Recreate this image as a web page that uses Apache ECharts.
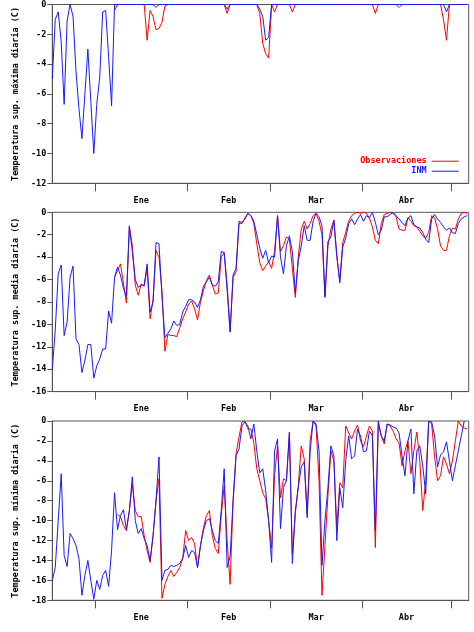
<!DOCTYPE html>
<html>
<head>
<meta charset="utf-8">
<script src="https://cdn.jsdelivr.net/npm/echarts@6/dist/echarts.min.js"></script>
<style>
html,body{margin:0;padding:0;background:#fff;}
#chart{width:474px;height:632px;}
</style>
</head>
<body>
<div id="chart"></div>
<script>
// Days are counted from 1 January (day 0). First INM value is at day -14.5, first observation at day 6.5.
const inmStartDay = -14.5;
const obsStartDay = 6.5;

const monthStarts = [0, 31, 59, 90, 120];
const monthLabels = ['Ene', 'Feb', 'Mar', 'Abr'];

const panelTitles = [
  'Temperatura sup. máxima diaria (C)',
  'Temperatura sup. media diaria (C)',
  'Temperatura sup. mínima diaria (C)'
];
const panelMins = [-12, -16, -18];

// ---- Panel 1: máxima ----
const maxInm = [
  -5.0, -1.0, -0.5, -2.5, -6.7, -1.1, 0, -0.8, -4.5, -7.0,
  -9.0, -6.0, -3.0, -6.5, -10.0, -6.7, -4.9, -0.5, -0.4, -3.5,
  -6.8, 0, 0, 0, 0, 0, 0, 0, 0, 0,
  0, 0, 0, 0, 0, -0.2, 0, 0, 0, 0,
  0, 0, 0, 0, 0, 0, 0, 0, 0, 0,
  0, 0, 0, 0, 0, 0, 0, 0, 0, -0.3,
  0, 0, 0, 0, 0, 0, 0, 0, 0, 0,
  -0.3, -0.8, -2.4, -2.2, 0, 0, 0, 0, 0, 0,
  0, 0, 0, 0, 0, 0, 0, 0, 0, 0,
  0, 0, 0, 0, 0, 0, 0, 0, 0, 0,
  0, 0, 0, 0, 0, 0, 0, 0, 0, 0,
  0, 0, 0, 0, 0, 0, 0, 0, 0, 0,
  0, 0, 0, 0, 0, 0, 0, 0, 0, 0,
  0, 0, 0, -0.5, 0, 0, 0, 0, 0, 0,
  0
];
const maxObs = [
  -0.4, 0, 0, 0, 0, 0, 0, 0, 0, 0,
  0, -2.4, -0.4, -0.8, -1.7, -1.6, -1.2, -0.1, 0, 0,
  0, 0, 0, 0, 0, 0, 0, 0, 0, 0,
  0, 0, 0, 0, 0, 0, 0, 0, -0.6, 0,
  0, 0, 0, 0, 0, 0, 0, 0, 0, -0.6,
  -2.6, -3.3, -3.6, 0, -0.5, 0, 0, 0, 0, 0,
  -0.5, 0, 0, 0, 0, 0, 0, 0, 0, 0,
  0, 0, 0, 0, 0, 0, 0, 0, 0, 0,
  0, 0, 0, 0, 0, 0, 0, 0, -0.6, 0,
  0, 0, 0, 0, 0, 0, -0.2, 0, 0, 0,
  0, 0, 0, 0, 0, 0, 0, 0, 0, 0,
  0, -1.0, -2.4, 0, 0, 0, 0, 0, 0, 0
];

// ---- Panel 2: media ----
const medInm = [
  -14.0, -10.5, -5.5, -4.7, -11.0, -9.8, -5.8, -4.8, -11.3, -11.8,
  -14.3, -13.2, -11.8, -11.8, -14.8, -13.7, -13.1, -12.2, -12.2, -8.8,
  -9.9, -5.8, -4.9, -5.6, -6.8, -7.5, -1.2, -3.5, -6.0, -6.7,
  -6.5, -6.5, -4.6, -8.9, -8.0, -2.7, -2.8, -7.5, -11.2, -10.8,
  -10.4, -9.7, -10.1, -10.0, -8.9, -8.4, -7.8, -7.8, -8.0, -8.5,
  -7.8, -6.6, -6.2, -5.8, -6.5, -6.6, -6.2, -3.5, -3.6, -7.0,
  -10.7, -5.6, -5.0, -0.8, -0.9, -0.6, -0.1, -0.3, -0.8, -2.0,
  -3.2, -4.1, -3.4, -4.5, -3.9, -4.0, -0.3, -4.0, -5.5, -3.0,
  -2.1, -3.5, -7.2, -4.3, -3.0, -1.2, -2.5, -2.5, -0.8, -0.1,
  -0.4, -1.2, -7.5, -2.6, -2.2, -0.7, -3.8, -6.3, -3.1, -2.3,
  -1.0, -0.6, -1.1, -0.6, -0.2, -0.8, -0.3, -0.5, 0, -0.9,
  -2.0, -1.6, -0.4, -0.4, -0.2, 0, -0.3, -0.6, -0.9, -1.2,
  -0.5, -0.3, -1.1, -1.3, -1.4, -1.8, -2.4, -2.7, -0.6, -0.2,
  -0.6, -0.9, -1.3, -1.6, -1.4, -1.8, -1.9, -1.0, -0.6, -0.4,
  -0.3
];
const medObs = [
  -5.8, -5.2, -4.6, -6.3, -8.1, -1.3, -3.0, -6.5, -7.4,
  -6.4, -6.6, -5.0, -9.5, -7.8, -3.4, -4.0, -7.0, -12.4, -10.9,
  -11.0, -11.0, -11.1, -10.3, -9.5, -8.9, -8.2, -7.9, -8.6, -9.6,
  -8.0, -7.0, -6.1, -5.6, -6.5, -7.3, -7.2, -4.0, -3.6, -6.5,
  -10.6, -5.8, -5.3, -1.0, -1.0, -0.5, -0.1, -0.3, -1.0, -2.8,
  -4.5, -5.2, -4.8, -4.4, -5.0, -3.5, -0.3, -3.5, -3.0, -2.2,
  -2.4, -5.0, -7.6, -4.0, -1.5, -0.8, -1.5, -1.0, -0.3, -0.1,
  -0.8, -2.0, -7.6, -3.0, -1.5, -0.7, -4.0, -6.1, -2.7, -1.8,
  -0.8, -0.3, -0.1, 0, -0.1, 0, -0.1, -0.5, -1.3, -2.5,
  -2.8, -1.0, -0.2, -0.1, 0, -0.1, -0.4, -1.5, -1.6, -1.6,
  -0.5, -0.8, -1.2, -1.3, -1.7, -2.1, -2.3, -1.8, -0.3, -0.5,
  -1.5, -3.0, -3.4, -3.4, -2.1, -1.4, -1.5, -0.6, -0.1, 0,
  -0.1
];

// ---- Panel 3: mínima ----
const minInm = [
  -16.0, -14.7, -10.0, -5.3, -13.5, -14.6, -11.3, -11.8, -12.5, -13.8,
  -17.5, -15.5, -14.0, -16.0, -17.9, -16.0, -16.9, -15.5, -15.0, -16.6,
  -13.0, -7.2, -10.9, -9.5, -8.9, -10.9, -9.0, -5.6, -10.0, -11.3,
  -10.8, -11.8, -12.5, -14.0, -11.5, -8.0, -3.6, -16.0, -15.0, -14.9,
  -14.5, -14.6, -14.5, -14.3, -13.8, -12.5, -13.7, -13.0, -13.2, -14.7,
  -12.5, -11.0, -10.0, -9.8, -11.0, -12.0, -12.3, -9.0, -4.8, -14.7,
  -13.6, -8.0, -3.5, -2.8, -0.5, -0.1, -0.5, -1.8, -0.3, -3.0,
  -5.2, -4.8, -7.0, -10.0, -14.2, -3.0, -1.8, -10.8, -6.7, -6.0,
  -1.1, -14.3, -9.0, -6.7, -4.6, -4.1, -9.7, -3.0, 0, -0.3,
  -3.0, -14.5, -10.0, -6.7, -2.5, -3.5, -12.0, -6.7, -8.7, -4.0,
  -1.5, -3.8, -3.5, -0.8, -1.5, -3.1, -3.0, -1.0, -1.5, -11.0,
  0, -1.5, -2.0, -0.3, -0.4, -0.6, -0.7, -1.2, -3.5, -5.5,
  -2.0, -0.8, -7.3, -3.0, -2.5, -4.5, -7.3, 0, -0.1, -1.5,
  -4.6, -3.4, -3.1, -2.1, -4.0, -6.0, -4.5, -3.0, -1.5, 0
];
const minObs = [
  null, -9.4, -9.6, -10.5, -11.0, -9.0, -6.3, -9.0, -9.6, -9.6,
  -11.5, -13.0, -14.2, -11.5, -8.0, -5.8, -17.8, -16.4, -15.6, -15.0,
  -15.6, -15.2, -14.7, -13.8, -11.0, -12.0, -11.7, -12.3, -14.7, -12.5,
  -10.7, -9.5, -9.0, -11.5, -12.8, -13.3, -9.5, -6.5, -12.0, -16.4,
  -8.0, -3.3, -1.6, -0.1, 0, -0.8, -0.8, -2.2, -4.8, -6.0,
  -7.2, -7.8, -10.0, -12.7, -5.5, -2.5, -7.7, -5.8, -6.0, -1.3,
  -13.3, -9.3, -6.5, -2.5, -3.8, -9.3, -2.0, 0, -0.5, -6.0,
  -17.5, -12.5, -7.5, -3.0, -4.0, -10.7, -6.2, -6.7, -0.5, -1.2,
  -1.8, -1.0, -0.4, -2.0, -2.6, -1.5, -0.5, -1.0, -12.7, -0.3,
  -1.5, -2.3, -0.3, -0.5, -1.0, -1.8, -2.2, -4.5, -3.0, -2.0,
  -5.3, -3.0, -1.1, -4.0, -9.0, -6.0, 0, -0.3, -3.6, -6.0,
  -5.5, -3.6, -4.3, -5.3, -4.0, -2.0, 0, -0.5, -0.7, -0.8
];

const obsSets = [maxObs, medObs, minObs];
const inmSets = [maxInm, medInm, minInm];

const FONT = 'DejaVu Sans Mono';
const RED = '#ff0000';
const BLUE = '#1a1aff';
const AXIS = '#555555';

const gridTops = [4, 212.3, 421];
const gridHeight = 179.3;

const labelMids = monthLabels.map((m, k) => (monthStarts[k] + monthStarts[k + 1]) / 2);

const grids = [], xAxes = [], yAxes = [], series = [];
for (let p = 0; p < 3; p++) {
  grids.push({
    left: 52.3, top: gridTops[p], width: 416.4, height: gridHeight,
    show: true, borderColor: AXIS, borderWidth: 1, backgroundColor: 'transparent'
  });
  xAxes.push({
    type: 'value', gridIndex: p, min: -14.5, max: 126,
    axisLine: { show: true, onZero: false, lineStyle: { color: AXIS, width: 1 } },
    axisTick: { show: true, customValues: monthStarts, length: 8, inside: false, lineStyle: { color: AXIS, width: 1 } },
    axisLabel: {
      show: true, customValues: labelMids, margin: 12.5,
      formatter: v => monthLabels[labelMids.indexOf(v)] || '',
      fontFamily: FONT, fontWeight: 'bold', fontSize: 8.5, color: '#000'
    },
    splitLine: { show: false }
  });
  yAxes.push({
    type: 'value', gridIndex: p, min: panelMins[p], max: 0, interval: 2,
    axisLine: { show: true, onZero: false, lineStyle: { color: AXIS, width: 1 } },
    axisTick: { show: true, length: 5, lineStyle: { color: AXIS, width: 1 } },
    axisLabel: { margin: 6, fontFamily: FONT, fontWeight: 'bold', fontSize: 8.5, color: '#000' },
    splitLine: { show: false },
    name: panelTitles[p], nameLocation: 'middle', nameGap: 31, nameRotate: 90,
    nameTextStyle: { fontFamily: FONT, fontWeight: 'bold', fontSize: 8.5, color: '#000' }
  });
  series.push({
    type: 'line', name: 'Observaciones', xAxisIndex: p, yAxisIndex: p,
    data: obsSets[p].map((v, k) => [obsStartDay + k, v]),
    symbol: 'none', showSymbol: false, connectNulls: false,
    lineStyle: { color: RED, width: 1 }, itemStyle: { color: RED }
  });
  series.push({
    type: 'line', name: 'INM', xAxisIndex: p, yAxisIndex: p,
    data: inmSets[p].map((v, k) => [inmStartDay + k, v]),
    symbol: 'none', showSymbol: false,
    lineStyle: { color: BLUE, width: 1 }, itemStyle: { color: BLUE }
  });
}

const legendCommon = {
  orient: 'vertical', align: 'right', right: 15.3, padding: 0,
  icon: 'rect', itemWidth: 27, itemHeight: 1, selectedMode: false,
  textStyle: { fontFamily: FONT, fontWeight: 'bold', fontSize: 8.5 }
};

const chart = echarts.init(document.getElementById('chart'), null, { renderer: 'canvas' });
chart.setOption({
  animation: false,
  backgroundColor: '#fff',
  grid: grids,
  xAxis: xAxes,
  yAxis: yAxes,
  legend: [
    Object.assign({}, legendCommon, { top: 156.7, data: [{ name: 'Observaciones', textStyle: { color: RED } }] }),
    Object.assign({}, legendCommon, { top: 166.7, data: [{ name: 'INM', textStyle: { color: BLUE } }] })
  ],
  series: series
});
</script>
</body>
</html>
